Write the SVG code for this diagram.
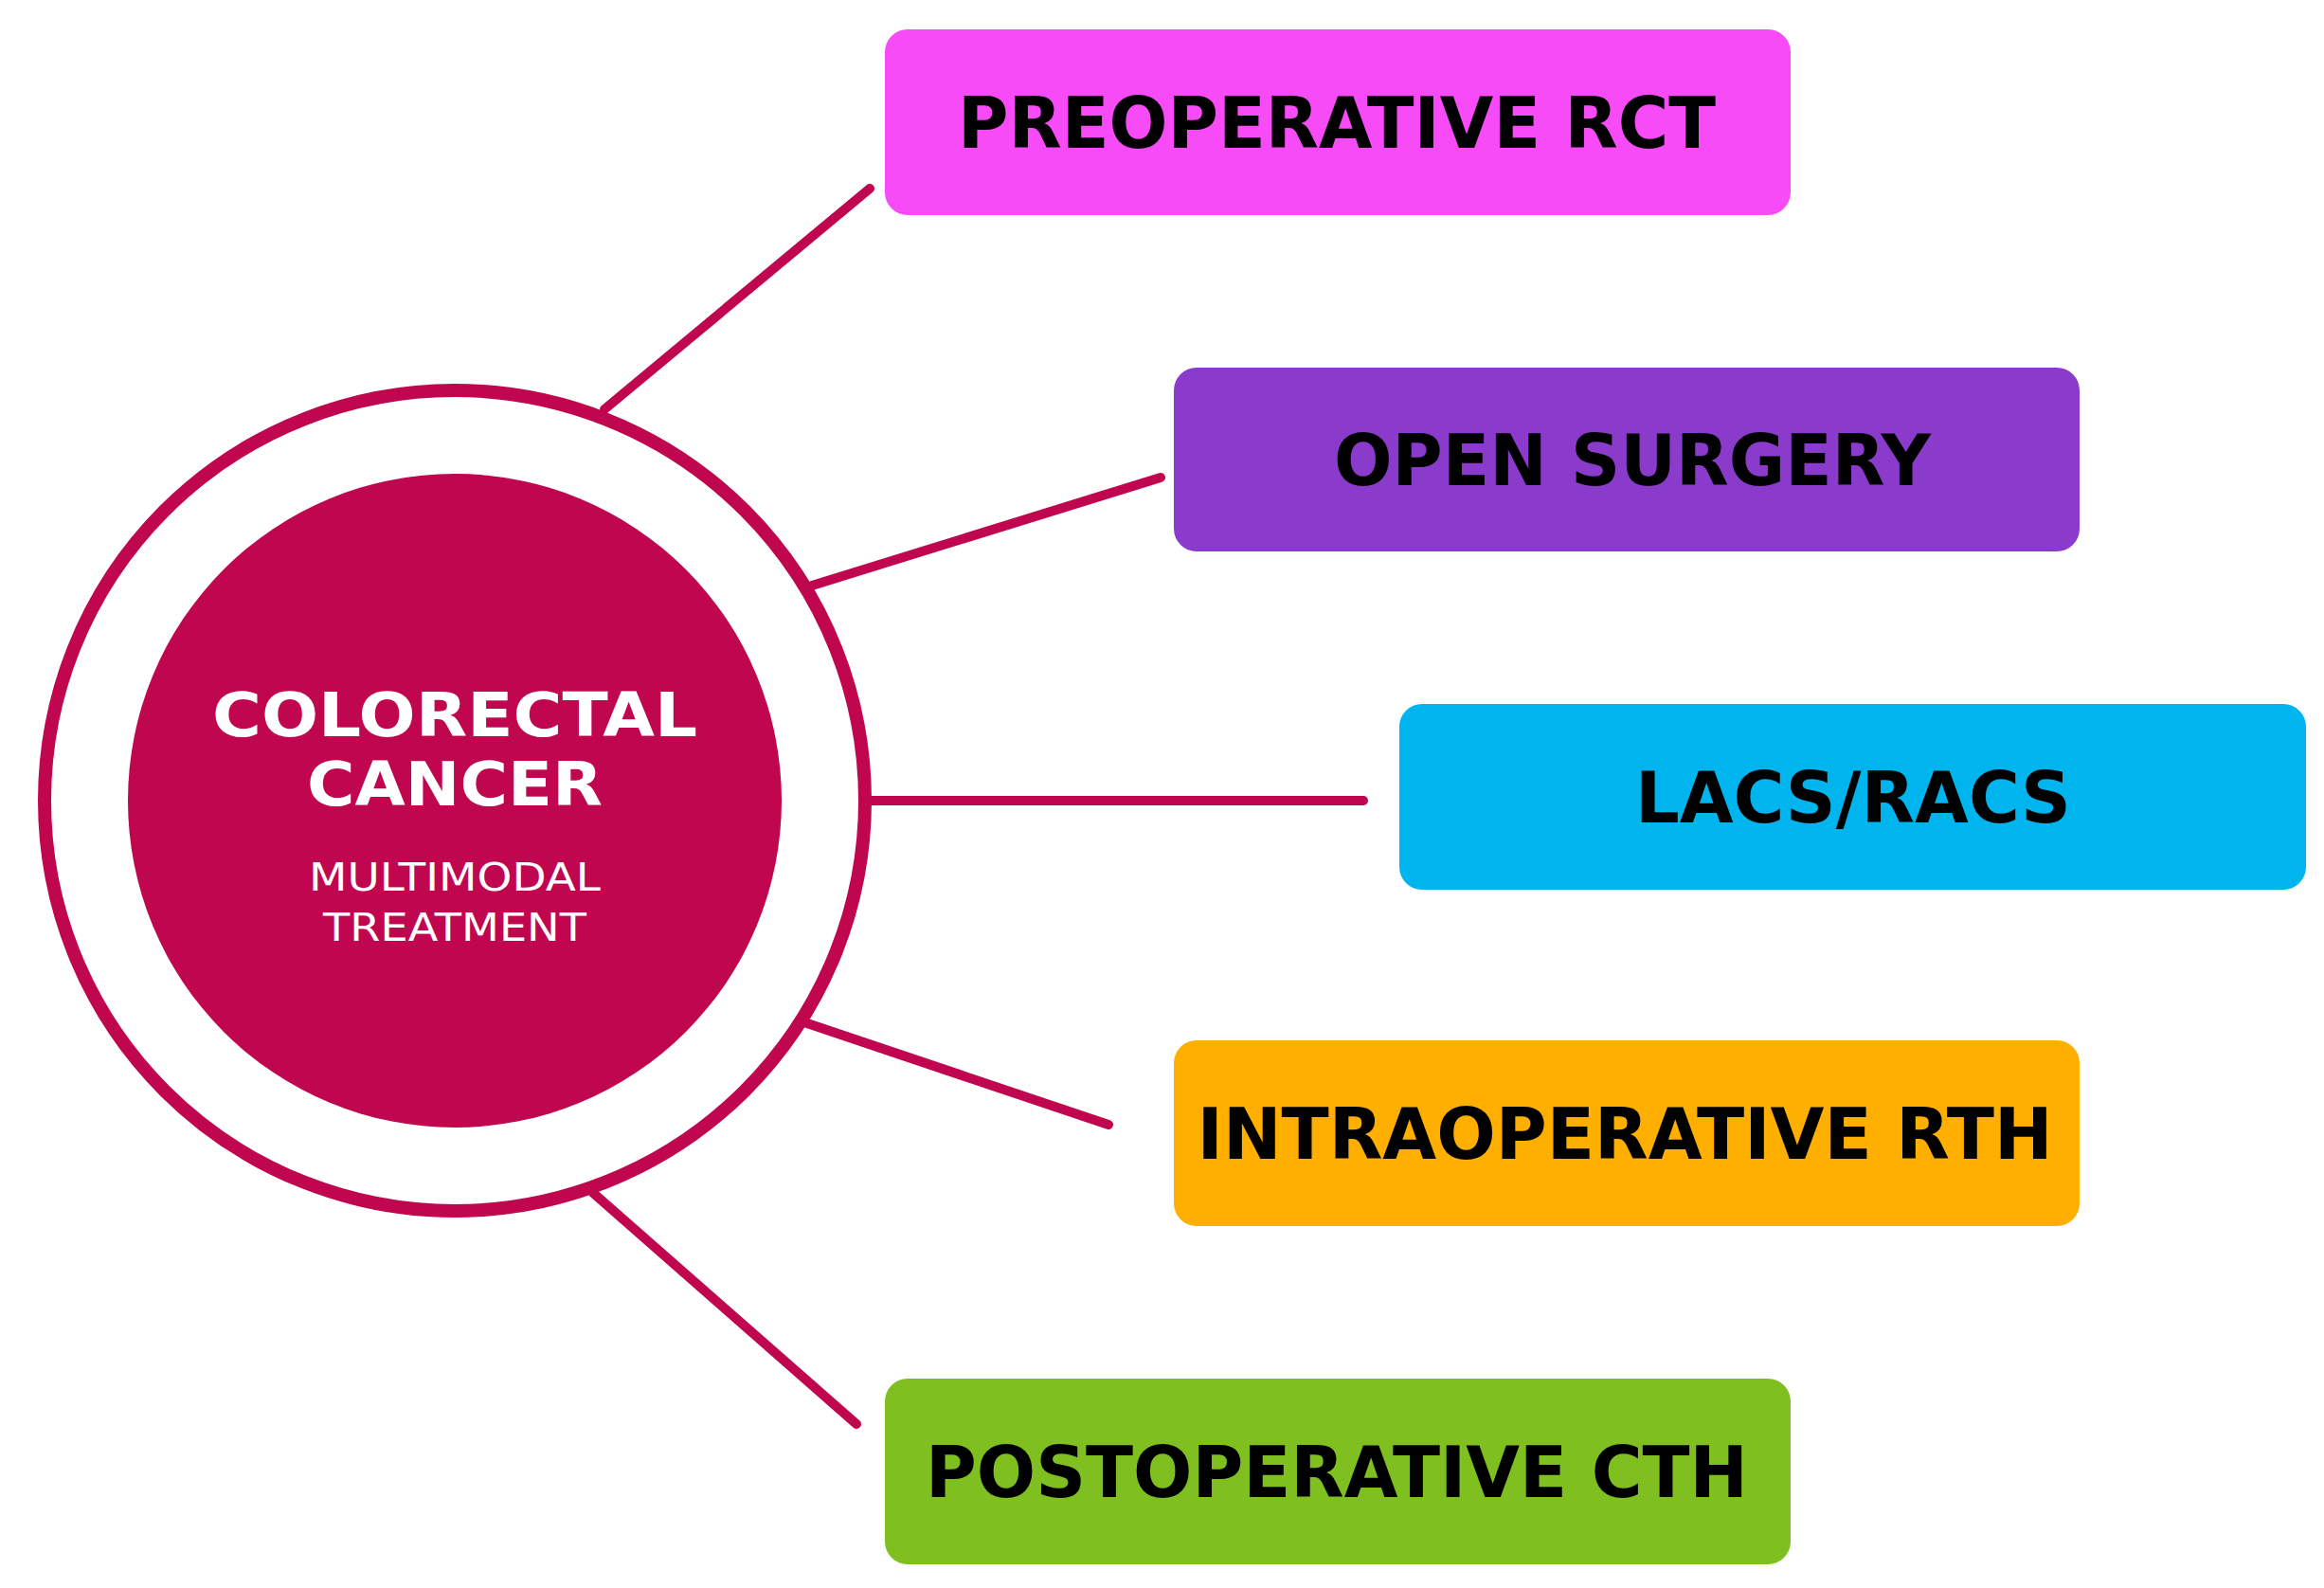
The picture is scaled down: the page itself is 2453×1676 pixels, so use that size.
<svg xmlns="http://www.w3.org/2000/svg" width="2453" height="1676" viewBox="0 0 2453 1676">
<style>
.c{stroke:#C0064F;stroke-width:10;stroke-linecap:round;fill:none}
.b{font-family:"DejaVu Sans","Liberation Sans",sans-serif;font-weight:bold;font-size:74px;fill:#000;text-anchor:middle}
.w{font-family:"DejaVu Sans","Liberation Sans",sans-serif;fill:#fff;text-anchor:middle}
</style>
<rect width="2453" height="1676" fill="#fff"/>
<g id="connectors">
<line class="c" x1="638" y1="432" x2="918" y2="199"/>
<line class="c" x1="857" y1="618" x2="1225" y2="504"/>
<line class="c" x1="920" y1="845" x2="1439" y2="845"/>
<line class="c" x1="849" y1="1079" x2="1170" y2="1187"/>
<line class="c" x1="626" y1="1259" x2="904" y2="1503"/>
</g>
<g id="center">
<circle cx="480" cy="845" r="433" fill="#fff" stroke="#C0064F" stroke-width="14"/>
<circle cx="480" cy="845" r="345" fill="#C0064F"/>
<text class="w" x="480" y="777" font-size="64" font-weight="bold" textLength="512" lengthAdjust="spacingAndGlyphs">COLORECTAL</text>
<text class="w" x="480" y="850" font-size="64" font-weight="bold" textLength="312" lengthAdjust="spacingAndGlyphs">CANCER</text>
<text class="w" x="480" y="940" font-size="40" textLength="308" lengthAdjust="spacingAndGlyphs">MULTIMODAL</text>
<text class="w" x="480" y="993" font-size="40" textLength="278" lengthAdjust="spacingAndGlyphs">TREATMENT</text>
</g>
<g id="n1"><rect x="934" y="31" width="956" height="196" rx="24" fill="#F84BF8"/><text class="b" x="1411" y="156" textLength="800" lengthAdjust="spacingAndGlyphs">PREOPERATIVE RCT</text></g>
<g id="n2"><rect x="1239" y="388" width="956" height="194" rx="24" fill="#8B3BCB"/><text class="b" x="1723" y="512" textLength="630" lengthAdjust="spacingAndGlyphs">OPEN SURGERY</text></g>
<g id="n3"><rect x="1477" y="743" width="957" height="196" rx="24" fill="#00B5EE"/><text class="b" x="1956" y="868" textLength="460" lengthAdjust="spacingAndGlyphs">LACS/RACS</text></g>
<g id="n4"><rect x="1239" y="1098" width="956" height="196" rx="24" fill="#FFAF00"/><text class="b" x="1715" y="1223" textLength="903" lengthAdjust="spacingAndGlyphs">INTRAOPERATIVE RTH</text></g>
<g id="n5"><rect x="934" y="1455" width="956" height="196" rx="24" fill="#7FBF1F"/><text class="b" x="1411" y="1580" textLength="868" lengthAdjust="spacingAndGlyphs">POSTOPERATIVE CTH</text></g>
</svg>
